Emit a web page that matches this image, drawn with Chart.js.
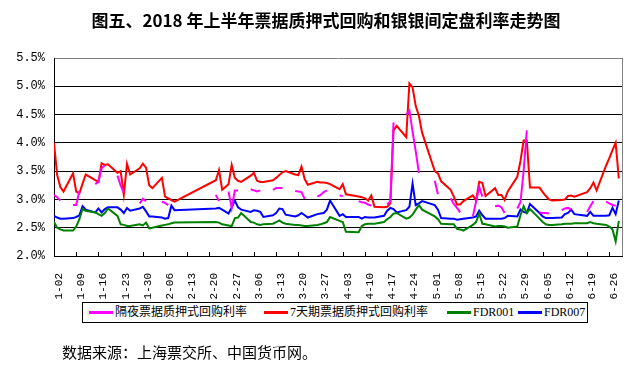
<!DOCTYPE html>
<html lang="zh-CN">
<head>
<meta charset="utf-8">
<title>图五</title>
<script src="https://cdn.jsdelivr.net/npm/chart.js@4.4.1/dist/chart.umd.min.js"></script>
<style>
  body { margin: 0; background: #fff; }
  #wrap { position: relative; width: 639px; height: 374px; overflow: hidden; background: #fff; }
  #chart { position: absolute; left: 0; top: 0; display: block; }
  #title {
    position: absolute; top: 10px; left: 0; width: 652px; text-align: center;
    font: bold 17px/20px "Noto Sans CJK SC", sans-serif; color: #000;
  }
  #legend {
    position: absolute; left: 82px; top: 302px; width: 506px; height: 21px;
    box-sizing: border-box; border: 1px solid #000; background: #fff;
  }
  #legend .item { position: absolute; top: 0; height: 19px; white-space: nowrap; }
  #legend .swatch { position: absolute; left: 0; top: 8px; width: 24px; height: 3px; }
  #legend .txt {
    position: absolute; left: 26px; top: 0;
    font: 12px/19px "Liberation Serif", "Noto Sans CJK SC", serif; color: #000;
  }
  #source {
    position: absolute; left: 62px; top: 342px;
    font: 15px/20px "Noto Sans CJK SC", sans-serif; color: #000;
  }
</style>
</head>
<body>
<div id="wrap">
  <canvas id="chart" width="639" height="374"></canvas>
  <div id="title">图五、2018 年上半年票据质押式回购和银银间定盘利率走势图</div>
  <div id="legend"></div>
  <div id="source">数据来源：上海票交所、中国货币网。</div>
</div>
<script>
// 交易日（2018年上半年）
const dates = [
  '1-02','1-03','1-04','1-05','1-08','1-09','1-10','1-11','1-12','1-15','1-16','1-17','1-18','1-19',
  '1-22','1-23','1-24','1-25','1-26','1-29','1-30','1-31',
  '2-01','2-02','2-05','2-06','2-07','2-08','2-09','2-22','2-23','2-24','2-26','2-27','2-28',
  '3-01','3-02','3-05','3-06','3-07','3-08','3-09','3-12','3-13','3-14','3-15','3-16',
  '3-19','3-20','3-21','3-22','3-23','3-26','3-27','3-28','3-29','3-30',
  '4-02','4-03','4-04','4-08','4-09','4-10','4-11','4-12','4-13','4-16','4-17','4-18','4-19','4-20',
  '4-23','4-24','4-25','4-26','4-27','4-28',
  '5-02','5-03','5-04','5-07','5-08','5-09','5-10','5-11','5-14','5-15','5-16','5-17','5-18',
  '5-21','5-22','5-23','5-24','5-25','5-28','5-29','5-30','5-31',
  '6-01','6-04','6-05','6-06','6-07','6-08','6-11','6-12','6-13','6-14','6-15',
  '6-19','6-20','6-21','6-22','6-25','6-26','6-27','6-28','6-29'
];

// 隔夜票据质押式回购利率 (null = 无成交)
const overnightRate = [
  3.08,3.04,2.98,null,2.90,2.90,3.15,null,null,3.27,3.31,3.55,3.60,null,
  3.42,3.25,3.12,null,null,2.93,3.01,2.97,
  null,null,2.96,2.94,2.90,null,null,3.08,2.97,null,3.14,2.85,3.16,
  3.16,null,3.18,3.16,3.14,3.16,null,3.17,3.20,3.20,3.20,null,
  3.15,3.14,3.13,3.01,null,3.05,3.08,3.13,3.16,null,
  3.07,3.06,null,2.97,2.95,2.94,2.91,2.89,null,null,2.91,2.97,4.36,null,
  4.50,4.57,4.20,3.85,3.47,null,
  3.33,3.09,null,3.02,2.92,2.85,2.77,null,2.70,2.96,3.22,3.05,null,
  2.88,2.89,2.86,2.76,null,2.84,2.95,3.50,4.22,
  null,2.77,2.76,2.76,2.75,null,2.81,2.84,2.85,2.82,null,
  2.78,2.88,2.97,null,2.96,2.93,2.90,2.89,null
];

// 7天期票据质押式回购利率
const sevenDayRate = [
  4.00,3.43,3.22,3.14,3.46,3.14,3.11,3.28,3.44,3.34,3.31,3.64,3.61,3.62,
  3.47,3.50,3.08,3.63,3.44,3.55,3.63,3.56,
  3.25,3.20,3.38,3.05,3.02,2.99,2.96,3.34,3.52,3.17,3.27,3.61,3.38,
  3.33,3.31,3.42,3.47,3.33,3.31,3.31,3.34,3.38,3.43,3.48,3.50,
  3.44,3.43,3.58,3.36,3.26,3.31,3.30,3.30,3.29,3.27,
  3.18,3.27,3.09,3.05,3.04,3.02,2.98,3.07,2.87,2.86,2.87,2.93,4.22,4.30,
  4.10,5.05,4.98,4.65,4.48,4.18,
  3.50,3.46,3.32,3.17,3.05,2.91,2.91,2.97,3.07,2.98,3.31,3.29,3.06,
  3.20,3.08,3.08,2.99,3.14,3.40,3.68,4.04,4.04,
  3.21,3.21,3.13,3.06,3.00,2.98,2.99,3.00,3.06,3.07,3.05,
  3.13,3.20,3.30,3.16,3.60,3.73,3.87,4.00,3.37
];

// FDR001
const fdr001 = [
  2.60,2.50,2.47,2.45,2.45,2.52,2.65,2.83,2.80,2.77,2.74,2.71,2.76,2.84,
  2.71,2.56,2.55,2.53,2.53,2.56,2.54,2.59,
  2.49,2.50,2.54,2.55,2.56,2.58,2.59,2.60,2.59,2.56,2.54,2.53,2.67,
  2.68,2.76,2.60,2.59,2.56,2.55,2.56,2.57,2.60,2.63,2.59,2.57,
  2.55,2.55,2.54,2.53,2.53,2.55,2.56,2.58,2.60,2.69,
  2.62,2.60,2.43,2.42,2.53,2.56,2.57,2.57,2.57,2.60,2.65,2.69,2.75,2.76,
  2.66,2.68,2.73,2.82,2.90,2.82,
  2.70,2.65,2.57,2.56,2.56,2.48,2.47,2.45,2.55,2.60,2.75,2.57,2.56,
  2.52,2.53,2.53,2.52,2.50,2.52,2.72,2.88,2.76,
  2.83,2.66,2.60,2.56,2.55,2.55,2.56,2.57,2.57,2.57,2.58,
  2.58,2.60,2.58,2.57,2.55,2.52,2.47,2.26,2.62
];

// FDR007
const fdr007 = [
  2.71,2.68,2.66,2.66,2.67,2.69,2.72,2.88,2.82,2.77,2.84,2.77,2.83,2.86,
  2.86,2.82,2.76,2.85,2.80,2.84,2.87,2.79,
  2.70,2.70,2.68,2.66,2.67,2.89,2.81,2.84,2.85,2.82,2.75,2.86,2.98,
  2.86,2.82,2.78,2.81,2.80,2.78,2.69,2.72,2.76,2.84,2.83,2.73,
  2.70,2.72,2.76,2.72,2.68,2.74,2.75,2.76,2.82,2.98,
  2.71,2.74,2.69,2.69,2.66,2.69,2.68,2.68,2.68,2.71,2.80,2.85,2.83,2.77,
  2.81,2.87,3.28,2.90,2.93,2.97,
  2.90,2.82,2.67,2.66,2.66,2.64,2.65,2.66,2.68,2.70,2.80,2.72,2.66,
  2.66,2.66,2.66,2.67,2.71,2.70,2.82,2.78,2.76,
  2.92,2.76,2.70,2.67,2.67,2.67,2.68,2.74,2.76,2.82,2.74,
  2.71,2.78,2.71,2.71,2.71,2.72,2.85,2.74,2.98
];

// 横轴刻度标签（每7天一个）
const xTickLabels = [
  '1-02','1-09','1-16','1-23','1-30','2-06','2-13','2-20','2-27','3-06','3-13','3-20','3-27',
  '4-03','4-10','4-17','4-24','5-01','5-08','5-15','5-22','5-29','6-05','6-12','6-19','6-26'
];

// 日期 -> 距1月2日的天数
function dayOf(md) {
  const [m, d] = md.split('-').map(Number);
  return (Date.UTC(2018, m - 1, d) - Date.UTC(2018, 0, 2)) / 86400000;
}

function toPoints(values) {
  return dates.map((d, i) => ({ x: dayOf(d), y: values[i] }));
}

// 绘图区右边框和横轴内侧刻度线
const plotFrame = {
  id: 'plotFrame',
  afterDraw(chart) {
    const { ctx, chartArea } = chart;
    const xScale = chart.scales.x;
    ctx.save();
    ctx.lineWidth = 1;
    ctx.strokeStyle = '#808080';
    ctx.beginPath();
    ctx.moveTo(Math.round(chartArea.right) + 0.5, chartArea.top);
    ctx.lineTo(Math.round(chartArea.right) + 0.5, chartArea.bottom);
    ctx.stroke();
    ctx.strokeStyle = '#000';
    ctx.beginPath();
    xScale.ticks.forEach(t => {
      const px = Math.round(xScale.getPixelForValue(t.value)) + 0.5;
      ctx.moveTo(px, chartArea.bottom);
      ctx.lineTo(px, chartArea.bottom - 4);
    });
    ctx.stroke();
    ctx.restore();
  }
};

const ctx = document.getElementById('chart').getContext('2d');

const chart = new Chart(ctx, {
  type: 'line',
  data: {
    datasets: [
      { label: '隔夜票据质押式回购利率', data: toPoints(overnightRate), borderColor: '#FF00FF', backgroundColor: '#FF00FF' },
      { label: '7天期票据质押式回购利率', data: toPoints(sevenDayRate), borderColor: '#FF0000', backgroundColor: '#FF0000' },
      { label: 'FDR001', data: toPoints(fdr001), borderColor: '#008000', backgroundColor: '#008000' },
      { label: 'FDR007', data: toPoints(fdr007), borderColor: '#0000FF', backgroundColor: '#0000FF' }
    ]
  },
  options: {
    responsive: false,
    animation: false,
    layout: { padding: { left: 0, right: 17, top: 58, bottom: 74 } },
    elements: {
      point: { radius: 0, hoverRadius: 0 },
      line: { tension: 0, borderWidth: 2, fill: false }
    },
    plugins: {
      legend: { display: false },
      title: { display: false },
      tooltip: { enabled: false }
    },
    scales: {
      x: {
        type: 'linear',
        min: 0,
        max: 179,
        afterFit: scale => { scale.height = 44; },
        afterBuildTicks: scale => {
          scale.ticks = xTickLabels.map((label, i) => ({ value: i * 7 }));
        },
        grid: { display: false },
        border: { display: true, color: '#000', width: 1 },
        ticks: {
          autoSkip: false,
          minRotation: 90,
          maxRotation: 90,
          padding: 9,
          labelOffset: 5,
          color: '#000',
          font: { family: 'Liberation Mono', size: 11 },
          callback: value => xTickLabels[Math.round(value / 7)]
        }
      },
      y: {
        min: 2,
        max: 5.5,
        afterFit: scale => { scale.width = 54; },
        grid: {
          color: c => (c.tick && c.tick.value === 5.5 ? '#808080' : '#000'),
          lineWidth: 1,
          drawTicks: false
        },
        border: { display: true, color: '#000', width: 1 },
        ticks: {
          stepSize: 0.5,
          padding: 9,
          color: '#000',
          font: { family: 'Liberation Mono', size: 12 },
          callback: value => value.toFixed(1) + '%'
        }
      }
    }
  },
  plugins: [plotFrame]
});

// 图例（按参考图位置排列）
const legendLefts = [6, 181, 364, 435];
const legendBox = document.getElementById('legend');
chart.data.datasets.forEach((ds, i) => {
  const item = document.createElement('div');
  item.className = 'item';
  item.style.left = legendLefts[i] + 'px';
  const sw = document.createElement('span');
  sw.className = 'swatch';
  sw.style.background = ds.borderColor;
  const tx = document.createElement('span');
  tx.className = 'txt';
  tx.textContent = ds.label;
  item.appendChild(sw);
  item.appendChild(tx);
  legendBox.appendChild(item);
});
</script>
</body>
</html>
